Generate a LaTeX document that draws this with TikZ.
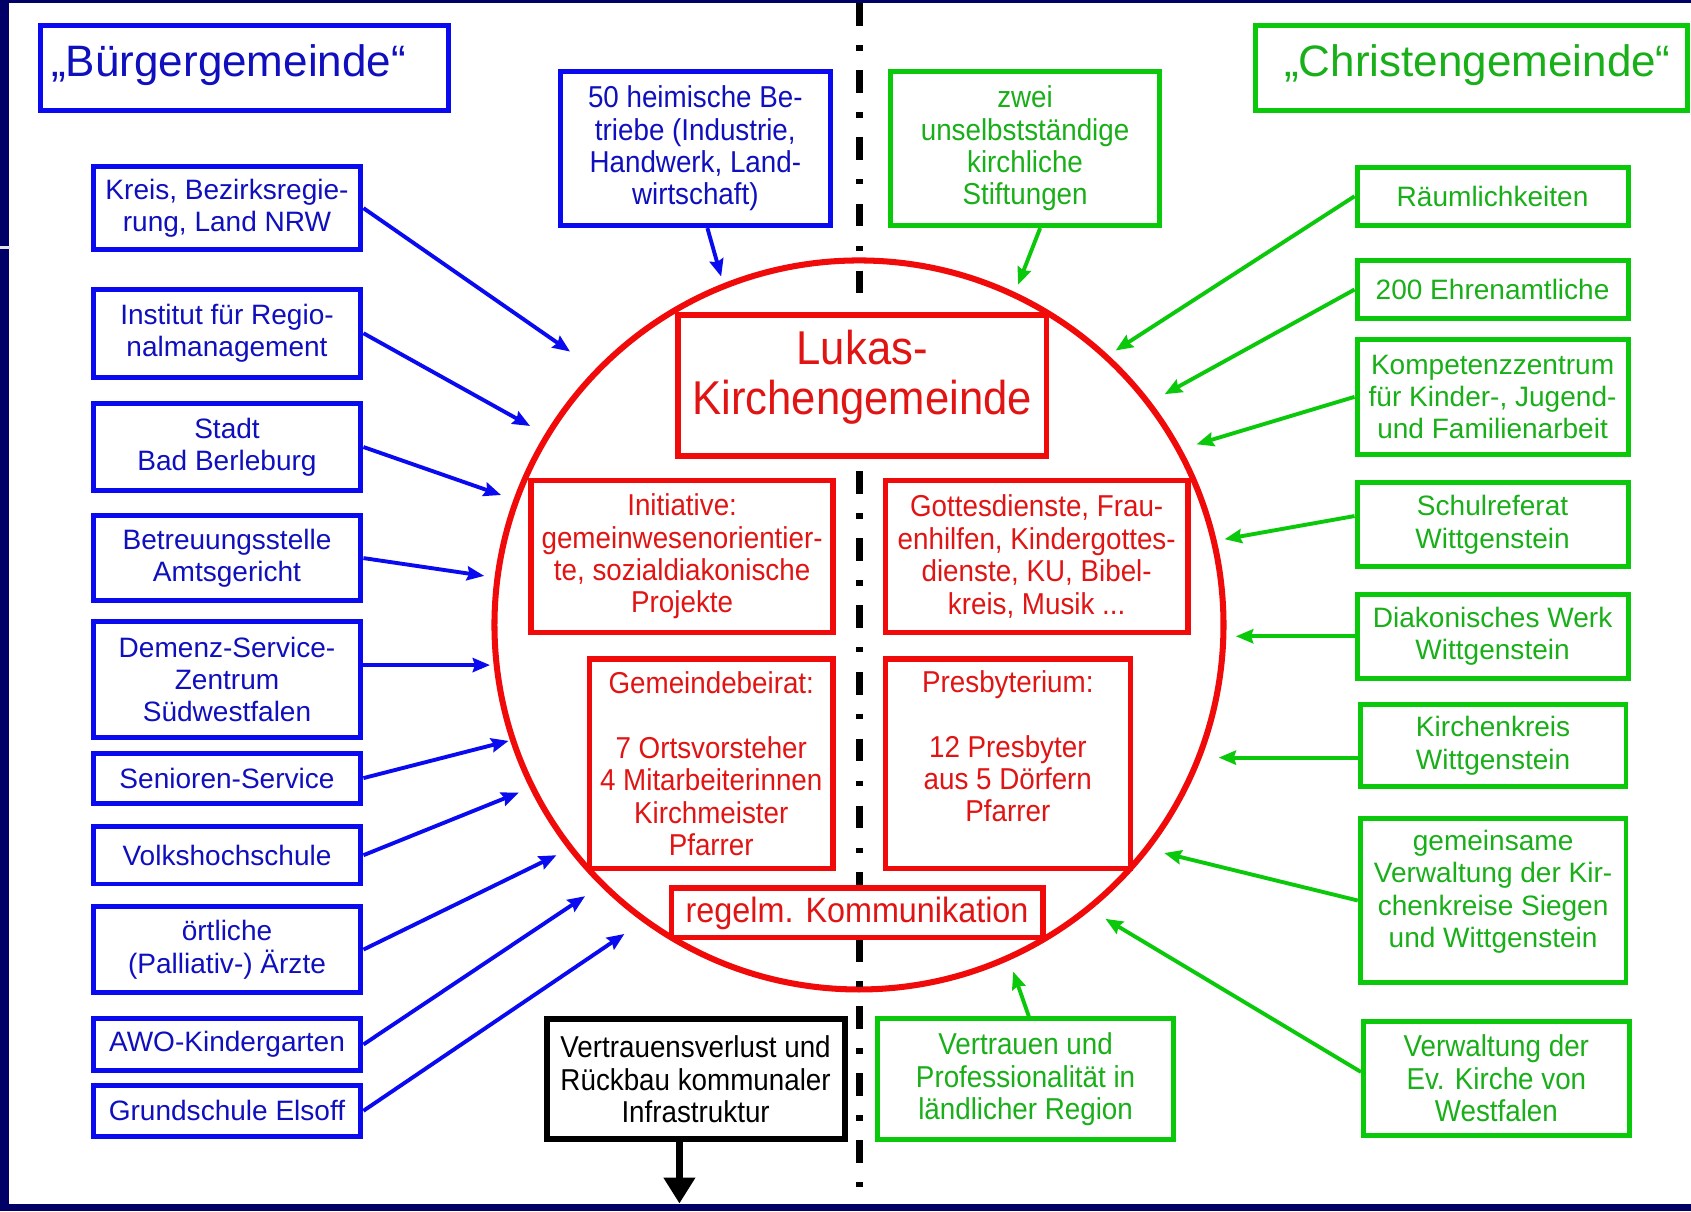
\documentclass[tikz,border=0pt]{standalone}
\usepackage{fontspec}
\setmainfont{Liberation Sans}
\newfontfamily\narfont{Liberation Sans}[FakeStretch=0.92]
\usetikzlibrary{arrows.meta}
\definecolor{navy}{RGB}{0,0,102}
\definecolor{bbord}{RGB}{10,10,240}
\definecolor{btext}{RGB}{15,15,190}
\definecolor{gbord}{RGB}{10,200,10}
\definecolor{gtext}{RGB}{25,175,25}
\definecolor{rbord}{RGB}{240,10,10}
\definecolor{rtext}{RGB}{225,20,20}
\begin{document}
\begin{tikzpicture}[x=0.5pt,y=-0.5pt,
  regf/.style={font=\fontsize{13pt}{15pt}\selectfont},
  narf/.style={font=\narfont\fontsize{14pt}{15pt}\selectfont},
  titf/.style={font=\fontsize{20.4pt}{23pt}\selectfont},
  boxb/.style={draw=bbord, line width=2.3pt, fill=white, inner sep=0pt, align=center, text=btext, regf},
  boxg/.style={draw=gbord, line width=2.3pt, fill=white, inner sep=0pt, align=center, text=gtext, regf},
  boxr/.style={draw=rbord, line width=2.5pt, fill=white, inner sep=0pt, align=center, text=rtext, narf},
  boxk/.style={draw=black, line width=2.8pt, fill=white, inner sep=0pt, align=center, text=black, narf},
  txt/.style={inner sep=0pt, align=center},
  lcol/.style={boxb, minimum width=124.2pt},
  rcol/.style={boxg, minimum width=125.7pt},
  barrow/.style={draw=bbord, line width=1.8pt, -{Stealth[length=8pt,width=6.5pt,inset=1pt]}},
  garrow/.style={draw=gbord, line width=1.8pt, -{Stealth[length=8pt,width=6.5pt,inset=1pt]}},
  karrow/.style={draw=black, line width=3pt, -{Triangle[length=12pt,width=14pt]}}
]
\useasboundingbox (0,0) rectangle (1568,1123);
% frame
\fill[navy] (0,0) rectangle (1568,1123);
\fill[white] (8.3,3) rectangle (1568,1116);
\fill[gray!20] (0,228) rectangle (9.5,230.5);

% circle and axis
\node[circle, draw=rbord, line width=2.8pt, minimum size=338pt, inner sep=0pt] (circ) at (796.5,579.5) {};
\coordinate (axtop) at (797,3);
\coordinate (axbot) at (797,1116);
\draw[black, line width=3pt, dash pattern=on 10.5pt off 9pt on 2.5pt off 9pt] (axtop) -- (axbot);

% titles
\node[boxb, minimum width=189.2pt, minimum height=39.45pt] (buerger) at (226.7,63) {};
\node[txt, text=btext, titf] (buergertxt) at (212,60) {„Bürgergemeinde“};
\node[boxg, minimum width=200.2pt, minimum height=39.45pt] (christen) at (1364.5,63) {};
\node[txt, text=gtext, titf] (christentxt) at (1370,60) {„Christengemeinde“};

% left column
\node[lcol, minimum height=38.7pt] (kreis) at (210.5,193) {Kreis, Bezirksregie-\\rung, Land NRW};
\node[lcol, minimum height=40.7pt] (inst) at (210.5,309) {Institut für Regio-\\nalmanagement};
\node[lcol, minimum height=40.2pt] (stadt) at (210.5,414.5) {Stadt\\Bad Berleburg};
\node[lcol, minimum height=39.2pt] (betr) at (210.5,517.5) {Betreuungsstelle\\Amtsgericht};
\node[lcol, minimum height=53.7pt] (demenz) at (210.5,630) {Demenz-Service-\\Zentrum\\Südwestfalen};
\node[lcol, minimum height=23.2pt] (senior) at (210.5,721.5) {Senioren-Service};
\node[lcol, minimum height=26.7pt] (vhs) at (210.5,793) {Volkshochschule};
\node[lcol, minimum height=40.2pt] (aerzte) at (210.5,880.5) {örtliche\\(Palliativ-) Ärzte};
\node[lcol, minimum height=24.2pt] (awo) at (210.5,968.5) {AWO-Kindergarten};
\node[lcol, minimum height=23.7pt] (grund) at (210.5,1030) {Grundschule Elsoff};

% right column
\node[rcol, minimum height=26.7pt] (raeum) at (1384,182) {Räumlichkeiten};
\node[rcol, minimum height=27.2pt] (ehren) at (1384,268.5) {200 Ehrenamtliche};
\node[rcol, minimum height=53.2pt] (komp) at (1384,368) {Kompetenzzentrum\\für Kinder-, Jugend-\\und Familienarbeit};
\node[rcol, minimum height=39.2pt] (schul) at (1384,486.5) {Schulreferat\\Wittgenstein};
\node[rcol, minimum height=38.7pt] (diakon) at (1384,590) {Diakonisches Werk\\Wittgenstein};
\node[rcol, minimum width=123.2pt, minimum height=38.2pt] (kk) at (1384.5,691.5) {Kirchenkreis\\Wittgenstein};
\node[rcol, minimum width=123.2pt, minimum height=75.7pt] (gem) at (1384.5,835) {};
\node[txt, text=gtext, regf] (gemtxt) at (1384.5,827) {gemeinsame\\Verwaltung der Kir-\\chenkreise Siegen\\und Wittgenstein};
\node[rcol, narf, minimum width=123.2pt, minimum height=52.7pt] (verw) at (1387.5,1000) {Verwaltung der\\Ev. Kirche von\\Westfalen};

% top boxes
\node[boxb, narf, minimum width=124.95pt, minimum height=71.45pt] (heim) at (644.75,137.75) {50 heimische Be-\\triebe (Industrie,\\Handwerk, Land-\\wirtschaft)};
\node[boxg, narf, minimum width=124.7pt, minimum height=71.45pt] (zwei) at (950.5,137.75) {zwei\\unselbstständige\\kirchliche\\Stiftungen};

% inner boxes
\node[boxr, minimum width=170.75pt, minimum height=65.5pt] (lukas) at (799.5,357.5) {};
\node[txt, text=rtext, font=\narfont\fontsize{22pt}{23pt}\selectfont] (lukastxt) at (799.5,350) {Lukas-\\Kirchengemeinde};
\node[boxr, minimum width=140pt, minimum height=70.5pt] (init) at (632.5,516) {Initiative:\\gemeinwesenorientier-\\te, sozialdiakonische\\Projekte};
\node[boxr, minimum width=140.25pt, minimum height=70.5pt] (gott) at (961.25,516) {Gottesdienste, Frau-\\enhilfen, Kindergottes-\\dienste, KU, Bibel-\\kreis, Musik ...};
\node[boxr, minimum width=113pt, minimum height=97.25pt] (beirat) at (659.5,708.25) {Gemeindebeirat:\\[15pt]7 Ortsvorsteher\\4 Mitarbeiterinnen\\Kirchmeister\\Pfarrer};
\node[boxr, minimum width=113.5pt, minimum height=97.25pt] (presb) at (934.5,708.25) {};
\node[txt, text=rtext, narf] (presbtxt) at (934.5,692) {Presbyterium:\\[15pt]12 Presbyter\\aus 5 Dörfern\\Pfarrer};
\node[boxr, minimum width=172.25pt, minimum height=23pt, font=\narfont\fontsize{16.3pt}{18pt}\selectfont] (komm) at (794.75,846.5) {regelm. Kommunikation};

% bottom boxes
\node[boxk, minimum width=138.2pt, minimum height=55.45pt] (verlust) at (645,1000.75) {Vertrauensverlust und\\Rückbau kommunaler\\Infrastruktur};
\node[boxg, narf, minimum width=137.2pt, minimum height=55.95pt] (vertr) at (951,1000.75) {Vertrauen und\\Professionalität in\\ländlicher Region};

% arrow tips
\coordinate (t1) at (528.6,326);
\coordinate (t2) at (491.5,395);
\coordinate (t3) at (464.6,459);
\coordinate (t4) at (449,534);
\coordinate (t5) at (454.4,616.7);
\coordinate (t6) at (471.6,687);
\coordinate (t7) at (481,735);
\coordinate (t8) at (516,793);
\coordinate (t9) at (542.5,831);
\coordinate (t10) at (579,866);
\coordinate (t11) at (668.7,256.5);
\coordinate (t12) at (944,264);
\coordinate (t13) at (1034.5,325);
\coordinate (t14) at (1080,365.5);
\coordinate (t15) at (1109.5,412);
\coordinate (t16) at (1135.5,500);
\coordinate (t17) at (1146,590);
\coordinate (t18) at (1130,702.5);
\coordinate (t19) at (1079.5,791);
\coordinate (t20) at (1025,852);
\coordinate (t21) at (939.5,901);
\coordinate (tdown) at (630,1116);

\draw[barrow] (kreis.east) -- (t1);
\draw[barrow] (inst.east) -- (t2);
\draw[barrow] (stadt.east) -- (t3);
\draw[barrow] (betr.east) -- (t4);
\draw[barrow] (demenz.east |- t5) -- (t5);
\draw[barrow] (senior.east) -- (t6);
\draw[barrow] (vhs.east) -- (t7);
\draw[barrow] (aerzte.east) -- (t8);
\draw[barrow] (awo.east) -- (t9);
\draw[barrow] (grund.east) -- (t10);
\draw[barrow] ([xshift=5.6pt]heim.south) -- (t11);
\draw[garrow] ([xshift=7pt]zwei.south) -- (t12);
\draw[garrow] (raeum.west) -- (t13);
\draw[garrow] (ehren.west) -- (t14);
\draw[garrow] (komp.west) -- (t15);
\draw[garrow] ([yshift=4pt]schul.west) -- (t16);
\draw[garrow] (diakon.west) -- (t17);
\draw[garrow] ([yshift=-5.5pt]kk.west) -- (t18);
\draw[garrow] (gem.west) -- (t19);
\draw[garrow] ([yshift=3pt]verw.west) -- (t20);
\draw[garrow] ([xshift=1.5pt]vertr.north) -- (t21);
\draw[karrow] ([xshift=-7.5pt]verlust.south) -- (tdown);
\end{tikzpicture}
\end{document}
